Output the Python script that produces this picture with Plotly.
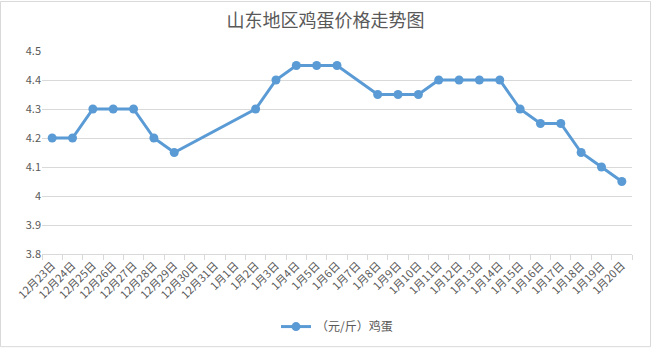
import plotly.graph_objects as go

categories = ["12月23日", "12月24日", "12月25日", "12月26日", "12月27日", "12月28日", "12月29日",
              "12月30日", "12月31日", "1月1日", "1月2日", "1月3日", "1月4日", "1月5日", "1月6日",
              "1月7日", "1月8日", "1月9日", "1月10日", "1月11日", "1月12日", "1月13日", "1月14日",
              "1月15日", "1月16日", "1月17日", "1月18日", "1月19日", "1月20日"]
prices = [4.2, 4.2, 4.3, 4.3, 4.3, 4.2, 4.15,
          None, None, None, 4.3, 4.4, 4.45, 4.45, 4.45,
          None, 4.35, 4.35, 4.35, 4.4, 4.4, 4.4, 4.4,
          4.3, 4.25, 4.25, 4.15, 4.1, 4.05]
series_name = "（元/斤）鸡蛋"
title = "山东地区鸡蛋价格走势图"

FONT = "Noto Sans CJK SC, Liberation Sans, sans-serif"
W, H = 651, 353
L, R, T, B = 42, 19, 51, 95
pw, ph = W - L - R, H - T - B

fig = go.Figure()
fig.add_trace(go.Scatter(
    x=categories, y=prices, name=series_name, mode="lines+markers",
    connectgaps=True,
    line=dict(color="#5B9BD5", width=3),
    marker=dict(color="#5B9BD5", size=9),
))

fig.update_layout(
    width=W, height=H,
    margin=dict(l=L, r=R, t=T, b=B),
    paper_bgcolor="white", plot_bgcolor="white",
    font=dict(family=FONT, color="#595959", size=11),
    title=dict(text=title, x=0.5, xanchor="center", y=1 - 21 / H, yanchor="middle",
               font=dict(size=18, color="#595959", family=FONT)),
    showlegend=True,
    legend=dict(orientation="h", x=0.5, xanchor="center", y=-(B - 21) / ph, yanchor="middle",
                font=dict(size=12, color="#595959", family=FONT), bgcolor="rgba(0,0,0,0)"),
    xaxis=dict(type="category", range=[-0.5, len(categories) - 0.5], tickangle=-45,
               showgrid=False, showline=True, linecolor="#D9D9D9", linewidth=1,
               ticks="outside", tickson="boundaries", ticklen=5, tickcolor="#D9D9D9",
               tickfont=dict(size=11, color="#595959", family=FONT), fixedrange=True),
    yaxis=dict(range=[3.8, 4.5], dtick=0.1, tick0=3.8, showgrid=True, gridcolor="#D9D9D9",
               gridwidth=1, showline=False, zeroline=False, ticks="",
               tickfont=dict(size=11, color="#595959", family=FONT), fixedrange=True),
    shapes=[dict(type="rect", xref="paper", yref="paper",
                 x0=-(L - 0.5) / pw, x1=(W - L - 0.5) / pw,
                 y0=-(B - 0.5) / ph, y1=(H - B - 0.5) / ph,
                 line=dict(color="#D9D9D9", width=1), fillcolor="rgba(0,0,0,0)", layer="below")],
)

fig.write_html("out.html")
